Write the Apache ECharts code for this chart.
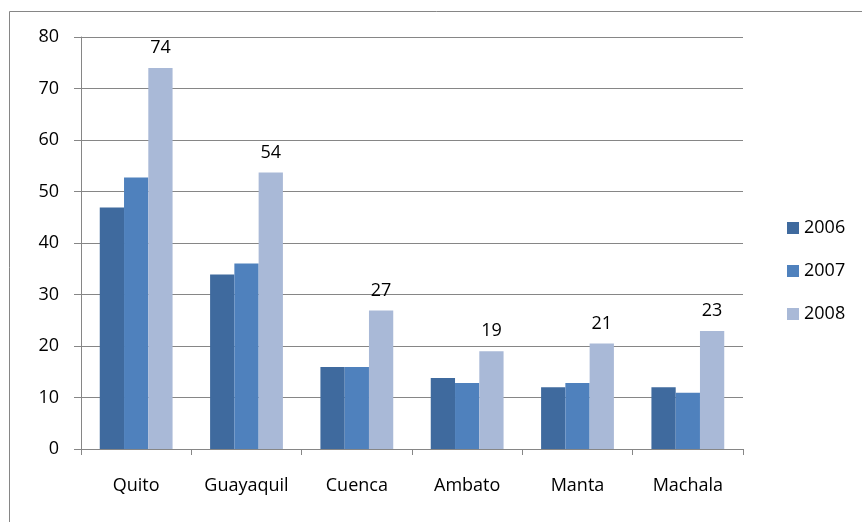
<!DOCTYPE html>
<html>
<head>
<meta charset="utf-8">
<script src="https://cdn.jsdelivr.net/npm/echarts@6/dist/echarts.min.js"></script>
<style>
  html, body { margin: 0; padding: 0; background: #fff; }
  #chart { width: 862px; height: 522px; }
</style>
</head>
<body>
<div id="chart"></div>
<script>
// datos
var cities = ['Quito', 'Guayaquil', 'Cuenca', 'Ambato', 'Manta', 'Machala']
var years = ['2006', '2007', '2008']
var data2006 = [46.9, 33.9, 15.9, 13.8, 12.0, 12.0]
var data2007 = [52.7, 36.0, 15.9, 12.8, 12.8, 10.9]
var data2008 = [74.0, 53.7, 26.9, 19.0, 20.5, 22.9]
var yTicks = [0, 10, 20, 30, 40, 50, 60, 70, 80]

var colors = ['#3F6A9E', '#4F81BD', '#A9B9D7']
var font = 'Open Sans'

var chart = echarts.init(document.getElementById('chart'))

var option = {
  animation: false,
  textStyle: { fontFamily: font },
  graphic: [
    {
      type: 'rect',
      shape: { x: 9.5, y: 11.5, width: 900, height: 600 },
      style: { fill: 'none', stroke: '#868686', lineWidth: 1 }
    }
  ],
  legend: {
    orient: 'vertical',
    left: 782,
    top: 214,
    itemWidth: 12,
    itemHeight: 12,
    itemGap: 25,
    icon: 'rect',
    textStyle: { fontSize: 18, color: '#000', fontFamily: font },
    data: years
  },
  grid: {
    left: 81,
    top: 37,
    right: 119,
    bottom: 73
  },
  xAxis: {
    type: 'category',
    data: cities,
    axisLine: { lineStyle: { color: '#868686', width: 1 } },
    axisTick: { show: true, length: 6, lineStyle: { color: '#868686' } },
    axisLabel: { fontSize: 18, color: '#000', margin: 28, fontFamily: font }
  },
  yAxis: {
    type: 'value',
    min: yTicks[0],
    max: yTicks[yTicks.length - 1],
    interval: 10,
    axisLine: { show: true, lineStyle: { color: '#868686', width: 1 } },
    axisTick: { show: true, length: 7, lineStyle: { color: '#868686' } },
    axisLabel: { fontSize: 18, color: '#000', margin: 22, fontFamily: font },
    splitLine: { lineStyle: { color: '#868686', width: 1 } }
  },
  series: [
    {
      name: years[0],
      type: 'bar',
      data: data2006,
      barGap: '0%',
      barCategoryGap: '34%',
      itemStyle: { color: colors[0] }
    },
    {
      name: years[1],
      type: 'bar',
      data: data2007,
      itemStyle: { color: colors[1] }
    },
    {
      name: years[2],
      type: 'bar',
      data: data2008,
      itemStyle: { color: colors[2] },
      label: {
        show: true,
        position: 'top',
        distance: 11,
        fontSize: 18,
        color: '#000',
        fontFamily: font,
        formatter: function (p) { return Math.round(p.value) }
      }
    }
  ]
}

chart.setOption(option)
</script>
</body>
</html>
